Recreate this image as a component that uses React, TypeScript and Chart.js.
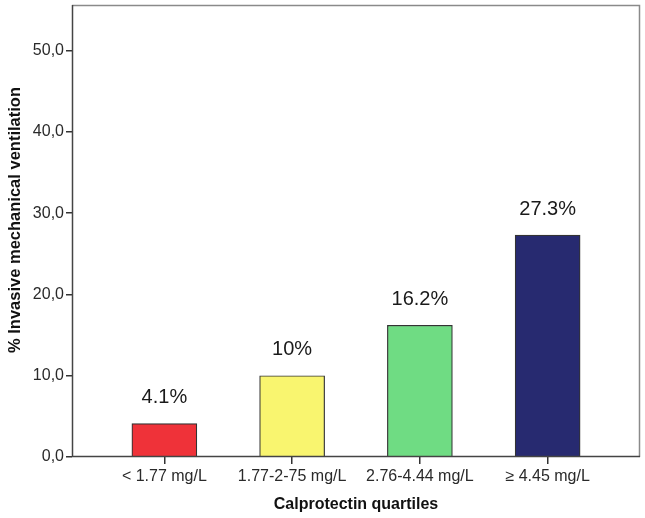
import React, { useEffect, useRef } from "react";
import { Chart, registerables } from "chart.js";

Chart.register(...registerables);

const categories = ["< 1.77 mg/L", "1.77-2-75 mg/L", "2.76-4.44 mg/L", "\u2265 4.45 mg/L"];
const values = [4.1, 10, 16.2, 27.3];
const valueLabels = ["4.1%", "10%", "16.2%", "27.3%"];
const barColors = ["#EF3239", "#F9F56F", "#6FDC83", "#272A70"];
const yTicks = [0, 10, 20, 30, 40, 50];
const yTitle = "% Invasive mechanical ventilation";

const FONT = "'Liberation Sans', Arial, sans-serif";

const framePlugin = {
  id: "frame",
  afterDatasetsDraw(chart: any) {
    const { ctx, chartArea } = chart;
    ctx.save();
    ctx.strokeStyle = "#8a8a8a";
    ctx.lineWidth = 1.5;
    ctx.beginPath();
    ctx.moveTo(chartArea.left, chartArea.top + 0.5);
    ctx.lineTo(chartArea.right - 0.5, chartArea.top + 0.5);
    ctx.lineTo(chartArea.right - 0.5, chartArea.bottom);
    ctx.stroke();
    ctx.strokeStyle = "#444";
    ctx.lineWidth = 1.5;
    ctx.beginPath();
    ctx.moveTo(chartArea.left + 0.5, chartArea.top);
    ctx.lineTo(chartArea.left + 0.5, chartArea.bottom - 0.5);
    ctx.lineTo(chartArea.right, chartArea.bottom - 0.5);
    ctx.stroke();
    const meta = chart.getDatasetMeta(0);
    ctx.fillStyle = "#1a1a1a";
    ctx.font = `20px ${FONT}`;
    ctx.textAlign = "center";
    ctx.textBaseline = "middle";
    meta.data.forEach((el: any, i: number) => {
      ctx.fillText(valueLabels[i], el.x, el.y - 26);
    });
    // y title
    ctx.translate(15, (chartArea.top + chartArea.bottom) / 2 - 11);
    ctx.rotate(-Math.PI / 2);
    ctx.fillStyle = "#111";
    ctx.font = `bold 16.5px ${FONT}`;
    ctx.fillText(yTitle, 0, 0);
    ctx.restore();
  },
};

export default function App() {
  const ref = useRef<HTMLCanvasElement>(null);
  useEffect(() => {
    document.body.style.margin = "0";
    const chart = new Chart(ref.current!, {
      type: "bar",
      data: {
        datasets: [
          {
            data: values.map((v, i) => ({ x: i, y: v })),
            backgroundColor: barColors,
            borderColor: "#333",
            borderWidth: 1.2,
            barThickness: 65,
          },
        ],
      },
      options: {
        animation: false,
        responsive: false,
        layout: { padding: { top: 5, right: 5, left: 0, bottom: 0 } },
        plugins: { legend: { display: false }, tooltip: { enabled: false } },
        scales: {
          x: {
            type: "linear",
            min: -0.723,
            max: 3.723,
            offset: false,
            afterBuildTicks: (s: any) => {
              s.ticks = categories.map((_, i) => ({ value: i }));
            },
            afterFit: (s: any) => {
              s.height = 61;
              s.paddingLeft = 0;
              s.paddingRight = 0;
            },
            ticks: {
              callback: (v: any) => categories[v],
              color: "#2a2a2a",
              font: { family: FONT, size: 16 },
              padding: 3,
              maxRotation: 0,
              autoSkip: false,
            },
            grid: { offset: false, drawOnChartArea: false, drawTicks: true, tickLength: 7, tickColor: "#333", lineWidth: 1.5 },
            border: { display: false },
            title: {
              display: true,
              text: "Calprotectin quartiles",
              color: "#111",
              font: { family: FONT, size: 16, weight: "bold" },
              padding: { top: 4, bottom: 4 },
            },
          },
          y: {
            min: 0,
            max: 55.6,
            afterBuildTicks: (s: any) => {
              s.ticks = yTicks.map((v) => ({ value: v }));
            },
            afterFit: (s: any) => {
              s.width = 72;
              s.paddingTop = 0;
              s.paddingBottom = 0;
            },
            ticks: {
              callback: (v: any) => Number(v).toFixed(1).replace(".", ","),
              color: "#2a2a2a",
              font: { family: FONT, size: 16 },
              padding: 2,
            },
            grid: { drawOnChartArea: false, drawTicks: true, tickLength: 6, tickColor: "#333", lineWidth: 1.5 },
            border: { display: false },
            title: { display: false },
          },
        },
      },
      plugins: [framePlugin],
    } as any);
    return () => chart.destroy();
  }, []);
  return (
    <div style={{ width: 645, height: 518 }}>
      <canvas ref={ref} width={645} height={518} style={{ display: "block" }} />
    </div>
  );
}
